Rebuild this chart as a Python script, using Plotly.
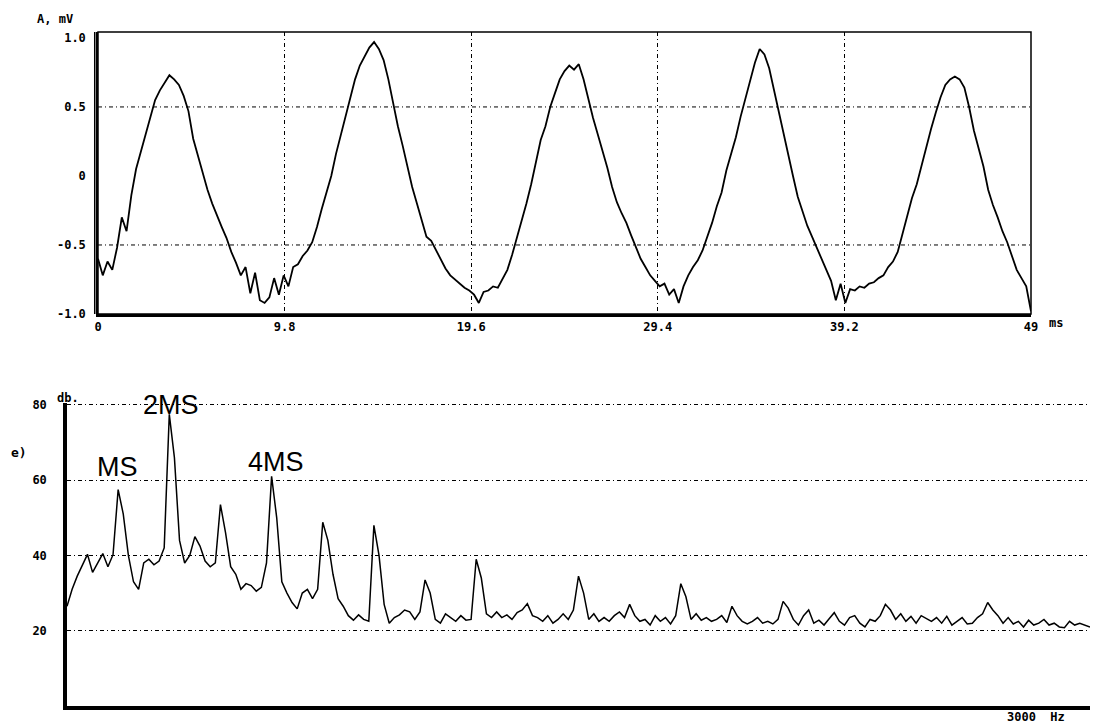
import plotly.graph_objects as go

# ---------------- data: top panel (waveform) ----------------
t_ms = [
    0.00, 0.25, 0.50, 0.75, 1.00, 1.25, 1.50, 1.75,
    2.00, 2.25, 2.50, 2.75, 3.00, 3.25, 3.50, 3.75,
    4.00, 4.25, 4.50, 4.75, 5.00, 5.25, 5.50, 5.75,
    6.00, 6.25, 6.50, 6.75, 7.00, 7.25, 7.50, 7.75,
    8.00, 8.25, 8.50, 8.75, 9.00, 9.25, 9.50, 9.75,
    10.00, 10.25, 10.50, 10.75, 11.00, 11.25, 11.50, 11.75,
    12.00, 12.25, 12.50, 12.75, 13.00, 13.25, 13.50, 13.75,
    14.00, 14.25, 14.50, 14.75, 15.00, 15.25, 15.50, 15.75,
    16.00, 16.25, 16.50, 16.75, 17.00, 17.25, 17.50, 17.75,
    18.00, 18.25, 18.50, 18.75, 19.00, 19.25, 19.50, 19.75,
    20.00, 20.25, 20.50, 20.75, 21.00, 21.25, 21.50, 21.75,
    22.00, 22.25, 22.50, 22.75, 23.00, 23.25, 23.50, 23.75,
    24.00, 24.25, 24.50, 24.75, 25.00, 25.25, 25.50, 25.75,
    26.00, 26.25, 26.50, 26.75, 27.00, 27.25, 27.50, 27.75,
    28.00, 28.25, 28.50, 28.75, 29.00, 29.25, 29.50, 29.75,
    30.00, 30.25, 30.50, 30.75, 31.00, 31.25, 31.50, 31.75,
    32.00, 32.25, 32.50, 32.75, 33.00, 33.25, 33.50, 33.75,
    34.00, 34.25, 34.50, 34.75, 35.00, 35.25, 35.50, 35.75,
    36.00, 36.25, 36.50, 36.75, 37.00, 37.25, 37.50, 37.75,
    38.00, 38.25, 38.50, 38.75, 39.00, 39.25, 39.50, 39.75,
    40.00, 40.25, 40.50, 40.75, 41.00, 41.25, 41.50, 41.75,
    42.00, 42.25, 42.50, 42.75, 43.00, 43.25, 43.50, 43.75,
    44.00, 44.25, 44.50, 44.75, 45.00, 45.25, 45.50, 45.75,
    46.00, 46.25, 46.50, 46.75, 47.00, 47.25, 47.50, 47.75,
    48.00, 48.25, 48.50, 48.75, 49.00,
]
amp_mv = [
    -0.60, -0.72, -0.62, -0.68, -0.52, -0.30, -0.40, -0.14,
    0.05, 0.18, 0.30, 0.44, 0.55, 0.62, 0.68, 0.73,
    0.70, 0.66, 0.58, 0.47, 0.27, 0.14, 0.02, -0.10,
    -0.20, -0.29, -0.37, -0.45, -0.55, -0.63, -0.72, -0.66,
    -0.85, -0.70, -0.90, -0.92, -0.88, -0.74, -0.86, -0.72,
    -0.80, -0.66, -0.64, -0.58, -0.54, -0.48, -0.37, -0.24,
    -0.12, 0.00, 0.16, 0.30, 0.44, 0.56, 0.70, 0.80,
    0.87, 0.93, 0.97, 0.92, 0.84, 0.70, 0.53, 0.36,
    0.22, 0.06, -0.08, -0.20, -0.33, -0.44, -0.47, -0.54,
    -0.60, -0.67, -0.72, -0.75, -0.78, -0.81, -0.83, -0.86,
    -0.92, -0.84, -0.83, -0.80, -0.81, -0.75, -0.68, -0.57,
    -0.45, -0.32, -0.20, -0.06, 0.10, 0.26, 0.36, 0.50,
    0.60, 0.70, 0.76, 0.80, 0.77, 0.81, 0.70, 0.55,
    0.42, 0.30, 0.18, 0.06, -0.08, -0.19, -0.27, -0.34,
    -0.43, -0.52, -0.60, -0.66, -0.72, -0.76, -0.80, -0.78,
    -0.86, -0.82, -0.92, -0.80, -0.72, -0.66, -0.61, -0.54,
    -0.44, -0.34, -0.22, -0.12, 0.04, 0.16, 0.28, 0.43,
    0.56, 0.68, 0.82, 0.92, 0.88, 0.78, 0.62, 0.48,
    0.32, 0.15, 0.00, -0.15, -0.26, -0.36, -0.44, -0.52,
    -0.60, -0.68, -0.76, -0.90, -0.78, -0.92, -0.82, -0.83,
    -0.80, -0.81, -0.78, -0.77, -0.74, -0.72, -0.66, -0.62,
    -0.55, -0.42, -0.28, -0.16, -0.06, 0.08, 0.20, 0.34,
    0.46, 0.57, 0.66, 0.70, 0.72, 0.70, 0.64, 0.50,
    0.33, 0.19, 0.07, -0.10, -0.21, -0.30, -0.40, -0.48,
    -0.58, -0.68, -0.74, -0.80, -0.98,
]
top_xticks = [0, 9.8, 19.6, 29.4, 39.2, 49]
top_xticktext = ["0", "9.8", "19.6", "29.4", "39.2", "49"]
top_yticks = [-1.0, -0.5, 0, 0.5, 1.0]
top_yticktext = ["-1.0", "-0.5", "0", "0.5", "1.0"]
top_ygrid = [-0.5, 0.5]

# ---------------- data: bottom panel (spectrum) ----------------
freq_hz = [
    0, 15, 30, 45, 60, 75, 90, 105, 120, 135,
    150, 165, 180, 195, 210, 225, 240, 255, 270, 285,
    300, 315, 330, 345, 360, 375, 390, 405, 420, 435,
    450, 465, 480, 495, 510, 525, 540, 555, 570, 585,
    600, 615, 630, 645, 660, 675, 690, 705, 720, 735,
    750, 765, 780, 795, 810, 825, 840, 855, 870, 885,
    900, 915, 930, 945, 960, 975, 990, 1005, 1020, 1035,
    1050, 1065, 1080, 1095, 1110, 1125, 1140, 1155, 1170, 1185,
    1200, 1215, 1230, 1245, 1260, 1275, 1290, 1305, 1320, 1335,
    1350, 1365, 1380, 1395, 1410, 1425, 1440, 1455, 1470, 1485,
    1500, 1515, 1530, 1545, 1560, 1575, 1590, 1605, 1620, 1635,
    1650, 1665, 1680, 1695, 1710, 1725, 1740, 1755, 1770, 1785,
    1800, 1815, 1830, 1845, 1860, 1875, 1890, 1905, 1920, 1935,
    1950, 1965, 1980, 1995, 2010, 2025, 2040, 2055, 2070, 2085,
    2100, 2115, 2130, 2145, 2160, 2175, 2190, 2205, 2220, 2235,
    2250, 2265, 2280, 2295, 2310, 2325, 2340, 2355, 2370, 2385,
    2400, 2415, 2430, 2445, 2460, 2475, 2490, 2505, 2520, 2535,
    2550, 2565, 2580, 2595, 2610, 2625, 2640, 2655, 2670, 2685,
    2700, 2715, 2730, 2745, 2760, 2775, 2790, 2805, 2820, 2835,
    2850, 2865, 2880, 2895, 2910, 2925, 2940, 2955, 2970, 2985,
    3000,
]
level_db = [
    26.5, 31.0, 34.5, 37.5, 40.3, 35.5, 38.0, 40.5, 37.0, 40.2,
    57.5, 51.0, 40.0, 33.0, 31.0, 38.0, 39.0, 37.5, 38.5, 42.0,
    77.5, 66.0, 44.0, 38.0, 40.0, 45.0, 42.5, 38.5, 37.0, 38.0,
    53.5, 46.0, 37.0, 35.0, 31.0, 32.5, 32.0, 30.5, 31.5, 38.0,
    61.0, 50.0, 33.0, 30.0, 27.5, 25.8, 30.0, 31.0, 28.5, 31.0,
    48.8, 44.0, 35.0, 28.5, 26.5, 24.0, 22.8, 24.2, 23.0, 22.5,
    48.0, 40.0, 27.0, 22.0, 23.5, 24.2, 25.5, 25.0, 23.0, 25.0,
    33.5, 30.0, 23.0, 22.0, 24.5, 23.5, 22.5, 24.0, 22.8, 23.0,
    39.0, 34.0, 24.5, 23.5, 25.0, 23.5, 24.2, 23.0, 24.8, 25.5,
    27.2, 24.0, 23.5, 22.5, 24.0, 22.0, 23.0, 24.5, 23.0, 25.5,
    34.5, 30.0, 23.0, 24.5, 22.5, 23.5, 22.5, 24.0, 25.0, 23.5,
    27.0, 24.0, 22.5, 23.0, 21.5, 24.0, 22.5, 23.5, 21.8, 24.0,
    32.5, 29.0, 23.0, 24.5, 22.8, 23.5, 22.5, 23.0, 24.0, 22.2,
    26.5, 24.0, 22.5, 21.8, 22.5, 23.5, 22.0, 22.5, 21.8, 23.0,
    27.8, 26.0, 23.0, 21.5, 24.0, 25.5, 22.0, 22.8, 21.5, 23.2,
    24.8, 22.5, 21.5, 23.5, 24.0, 22.0, 21.0, 23.0, 22.5, 24.0,
    27.0, 25.5, 23.0, 24.5, 22.5, 23.8, 22.0, 24.0, 23.2, 22.5,
    23.5, 22.0, 23.8, 21.5, 22.5, 23.5, 21.8, 22.0, 23.5, 24.5,
    27.5, 25.5, 24.0, 22.0, 23.5, 21.8, 22.5, 21.0, 22.8, 21.5,
    22.0, 23.0, 21.5, 22.0, 21.0, 20.8, 22.5, 21.5, 22.0, 21.5,
    21.0,
]
bot_yticks = [20, 40, 60, 80]
bot_yticktext = ["20", "40", "60", "80"]
peak_labels = ["MS", "2MS", "4MS"]
peak_label_hz = [147, 305, 612]
peak_label_db = [63.5, 80.0, 64.8]

# ---------------- figure ----------------
# The page body has an 8px margin, so the figure is drawn 8px smaller
# and all screen positions are offset by 8px.
OFF = 8
FW, FH = 1104 - OFF, 726 - OFF


def px(p):
    return (p - OFF) / FW


def py(p):
    return 1 - (p - OFF) / FH


PIX = dict(family="DejaVu Sans Mono", size=12, color="black", weight="bold")
DASH = "4px,3px,1px,3px"

fig = go.Figure()
fig.add_trace(go.Scatter(x=t_ms, y=amp_mv, mode="lines",
                         line=dict(color="black", width=1.8),
                         xaxis="x", yaxis="y", hoverinfo="skip"))
fig.add_trace(go.Scatter(x=freq_hz, y=level_db, mode="lines",
                         line=dict(color="black", width=1.5),
                         xaxis="x2", yaxis="y2", hoverinfo="skip"))

fig.update_layout(
    width=FW, height=FH,
    margin=dict(l=0, r=0, t=0, b=0, autoexpand=False),
    paper_bgcolor="white", plot_bgcolor="white",
    showlegend=False,
    xaxis=dict(domain=[px(98), px(1031)], range=[0, 49],
               tickvals=top_xticks, ticktext=top_xticktext,
               showgrid=True, gridcolor="black", gridwidth=1, griddash=DASH,
               zeroline=False, showline=True, linecolor="black", linewidth=3,
               ticks="", tickfont=PIX, anchor="y", automargin=False),
    yaxis=dict(domain=[py(314), py(32)], range=[-1.0, 1.043],
               tickvals=top_yticks, ticktext=top_yticktext,
               showgrid=False, zeroline=False, showline=True,
               linecolor="black", linewidth=1.5, ticks="",
               tickfont=PIX, ticklabelstandoff=8, anchor="x",
               automargin=False),
    xaxis2=dict(domain=[px(67), px(1090)], range=[0, 3000],
                showticklabels=False, showgrid=False, zeroline=False,
                showline=True, linecolor="black", linewidth=3.5, ticks="",
                anchor="y2", automargin=False),
    yaxis2=dict(domain=[py(706), py(403)], range=[0, 80.5],
                tickvals=bot_yticks, ticktext=bot_yticktext,
                showgrid=True, gridcolor="black", gridwidth=1, griddash=DASH,
                zeroline=False, showline=True, linecolor="black",
                linewidth=3.5, ticks="", tickfont=PIX,
                ticklabelstandoff=14, anchor="x2", automargin=False),
)

shapes = []
# thin frame of top panel + doubled left border
shapes.append(dict(type="rect", xref="x domain", yref="y domain",
                   x0=0, x1=1, y0=0, y1=1,
                   line=dict(color="black", width=1.5)))
shapes.append(dict(type="line", xref="x domain", yref="y domain",
                   x0=-0.0035, x1=-0.0035, y0=0, y1=1,
                   line=dict(color="black", width=1.5)))
for gy in top_ygrid:
    shapes.append(dict(type="line", xref="x domain", yref="y",
                       x0=0, x1=1, y0=gy, y1=gy,
                       line=dict(color="black", width=1, dash=DASH)))
fig.update_layout(shapes=shapes)

ann = []
ann.append(dict(text="A, mV", xref="paper", yref="paper",
                x=px(35), y=py(19), xanchor="left", yanchor="middle",
                showarrow=False, font=PIX))
ann.append(dict(text="ms", xref="paper", yref="paper",
                x=px(1047), y=py(323), xanchor="left", yanchor="middle",
                showarrow=False, font=PIX))
ann.append(dict(text="db.", xref="paper", yref="paper",
                x=px(55), y=py(398), xanchor="left", yanchor="middle",
                showarrow=False, font=PIX))
ann.append(dict(text="e)", xref="paper", yref="paper",
                x=px(9), y=py(452), xanchor="left", yanchor="middle",
                showarrow=False,
                font=dict(family="DejaVu Sans Mono", size=13, color="black",
                          weight="bold")))
ann.append(dict(text="3000  Hz", xref="paper", yref="paper",
                x=px(1005), y=py(717), xanchor="left", yanchor="middle",
                showarrow=False, font=PIX))
for lab, fx, fy in zip(peak_labels, peak_label_hz, peak_label_db):
    ann.append(dict(text=lab, xref="x2", yref="y2", x=fx, y=fy,
                    xanchor="center", yanchor="middle", showarrow=False,
                    font=dict(family="Liberation Sans", size=27,
                              color="black")))
fig.update_layout(annotations=ann)

fig.write_html("out.html")
